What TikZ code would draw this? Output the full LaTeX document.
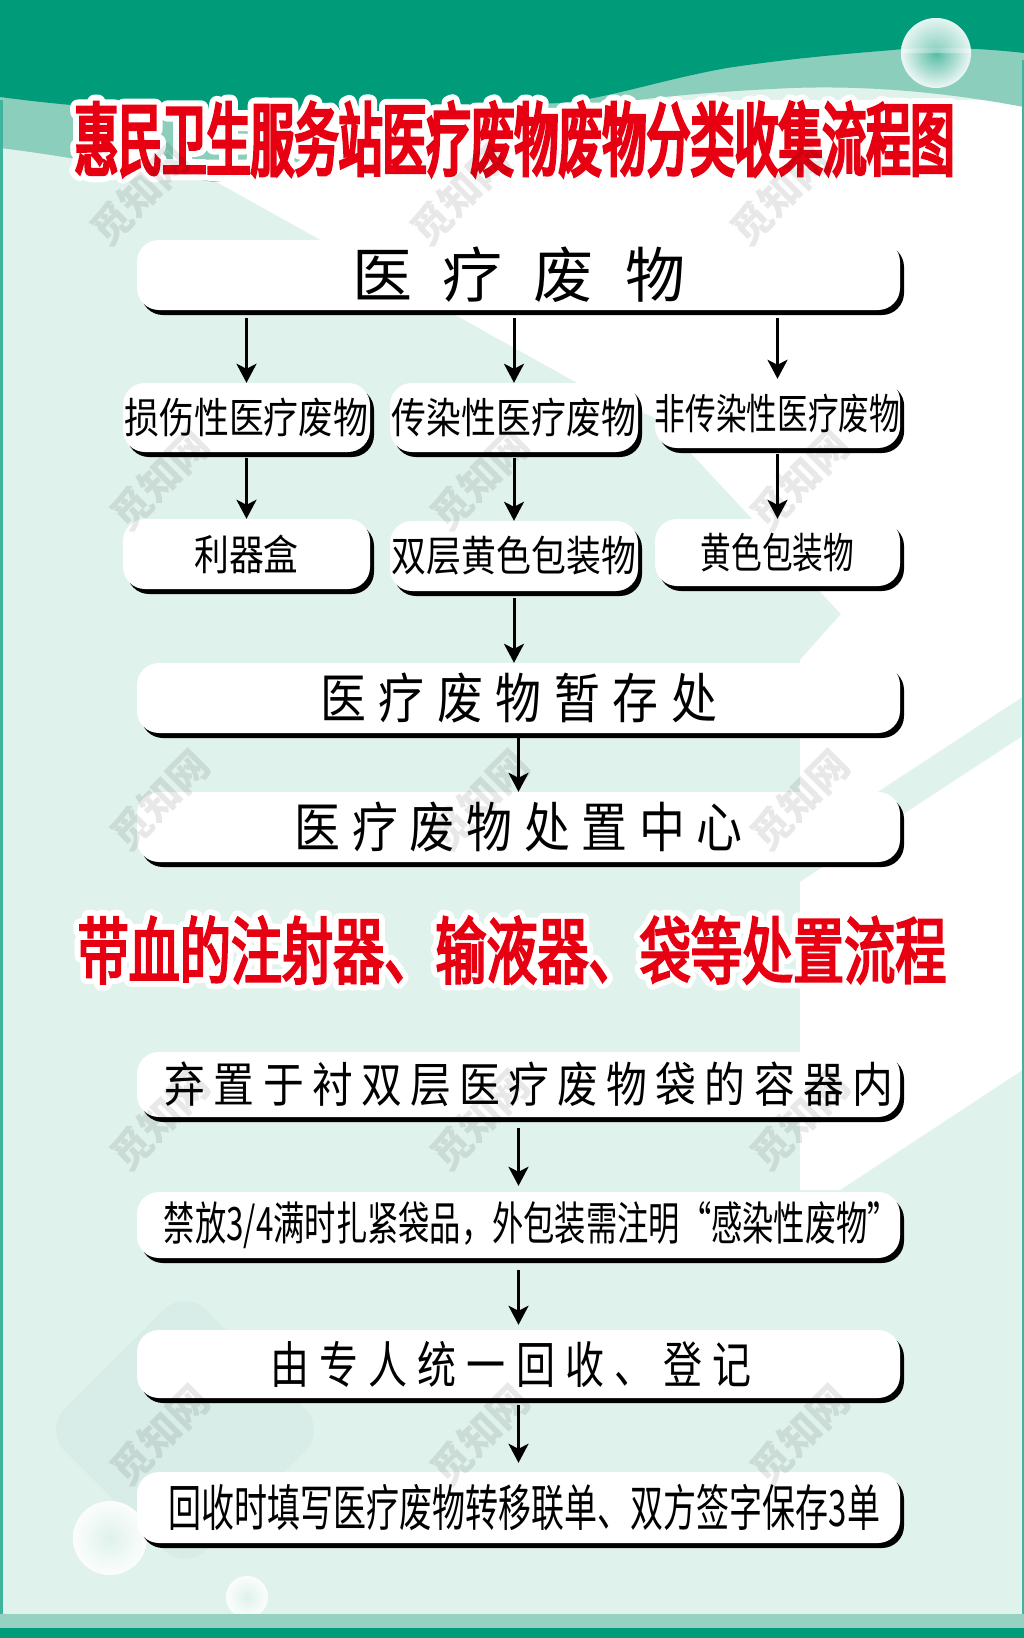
\documentclass[tikz,border=0pt]{standalone}
\usepackage{fontspec}
\setmainfont{Noto Sans CJK SC}
\newfontfamily\fA{Noto Sans CJK SC}
\newfontfamily\fB[FakeStretch=0.83]{Noto Sans CJK SC}
\newfontfamily\fC[FakeStretch=0.73]{Noto Sans CJK SC}
\newfontfamily\fM[FakeStretch=0.85]{Noto Sans CJK SC}
\newfontfamily\fP[FakeStretch=0.78]{Noto Sans CJK SC}
\newfontfamily\fD[FakeStretch=0.68]{Noto Sans CJK SC}
\newfontfamily\fE[FakeStretch=0.66]{Noto Sans CJK SC}
\newfontfamily\fT[FakeStretch=0.55, FakeBold=4]{Noto Sans CJK SC}
\newfontfamily\fTo[FakeStretch=0.55, FakeBold=19]{Noto Sans CJK SC}
\newfontfamily\fS[FakeStretch=0.70, FakeBold=3]{Noto Sans CJK SC}
\newfontfamily\fSo[FakeStretch=0.70, FakeBold=19]{Noto Sans CJK SC}
\usetikzlibrary{arrows.meta,shadows,calc}
\definecolor{dgreen}{HTML}{009B78}
\definecolor{mteal}{HTML}{8CCEBC}
\definecolor{pale}{HTML}{E0F2EC}
\definecolor{faint}{HTML}{D3EAE5}
\definecolor{edge}{HTML}{3DB49B}
\definecolor{tred}{HTML}{E60012}
\definecolor{bband}{HTML}{96D1C1}
\begin{document}
\begin{tikzpicture}[x=1pt,y=-1pt,
  box/.style={fill=white, rounded corners=22pt, inner sep=0pt,
    drop shadow={shadow xshift=4pt, shadow yshift=-5pt, fill=black, opacity=1}},
  arr/.style={line width=3pt, -{Stealth[length=19pt, width=20pt, inset=5pt]}},
  outl/.style={text=white, inner sep=0pt},
  redt/.style={text=tred, inner sep=0pt},
  wmark/.style={text=black, opacity=0.09, rotate=45, inner sep=0pt,
    font=\fA\bfseries\fontsize{40}{40}\selectfont}]
\useasboundingbox (0,0) rectangle (1024,1638);
% ---------- background ----------
\fill[pale] (0,0) rectangle (1024,1638);
\fill[white] (213,180) -- (590,390) -- (660,420) -- (841,614) -- (800,660)
  -- (800,1190) -- (840,1190) -- (1024,1069) -- (1024,100) -- (200,100) -- cycle;
\fill[pale] (800,843) -- (1024,696) -- (1024,735) -- (795,885) -- cycle;
\fill[faint, opacity=0.5, rounded corners=30pt, rotate around={45:(185,1430)}]
  (85,1330) rectangle (285,1530);
% header
\fill[mteal] (0,0) -- (1024,0) -- (1024,107)
  .. controls (960,95) and (880,85) .. (793,88)
  .. controls (700,92) and (620,100) .. (560,112) -- (300,172) -- (213,182)
  .. controls (150,172) and (60,155) .. (0,148) -- cycle;
\fill[dgreen] (0,0) -- (1024,0) -- (1024,53)
  .. controls (980,48) and (930,46) .. (893,50)
  .. controls (830,55) and (780,60) .. (727,68)
  .. controls (660,80) and (610,98) .. (560,103) -- (300,115)
  .. controls (150,114) and (60,105) .. (0,97) -- cycle;
% bubbles
\shade[inner color=dgreen!70!white, outer color=white, opacity=0.85] (936,53) circle (35);
\fill[white, opacity=0.35] (901,53) arc[start angle=180, end angle=360, radius=35] -- cycle;
\shade[inner color=pale, outer color=white, opacity=0.9] (110,1538) circle (37);
\shade[inner color=pale, outer color=white, opacity=0.9] (247,1597) circle (21);
% side edges and bottom bands
\fill[edge] (0,100) rectangle (2.5,1614);
\fill[edge] (1021.5,60) rectangle (1024,1614);
\fill[bband] (0,1614) rectangle (1024,1628);
\fill[dgreen] (0,1628) rectangle (1024,1638);
% ---------- title ----------
\node[outl] (title-o) at (514.5,139) {\special{pdf:literal direct 1 j}\fTo\fontsize{80}{80}\selectfont 惠民卫生服务站医疗废物废物分类收集流程图};
\node[redt] (title) at (514.5,139) {\fT\fontsize{80}{80}\selectfont 惠民卫生服务站医疗废物废物分类收集流程图};
% ---------- flow 1 ----------
\node[box, minimum width=763pt, minimum height=70pt] (top) at (518.5,275)
  {\fA\fontsize{60}{60}\selectfont\def\g{\hspace{31pt}}医\g 疗\g 废\g 物};
\node[box, minimum width=247pt, minimum height=69pt] (r2a) at (246.5,417.5)
  {\fB\fontsize{42}{42}\selectfont 损伤性医疗废物};
\node[box, minimum width=248pt, minimum height=69pt] (r2b) at (514,417.5)
  {\fB\fontsize{42}{42}\selectfont 传染性医疗废物};
\node[box, minimum width=245pt, minimum height=69pt] (r2c) at (777.5,413.5)
  {\fC\fontsize{42}{42}\selectfont 非传染性医疗废物};
\node[box, minimum width=247pt, minimum height=70pt] (r3a) at (246.5,554)
  {\fB\fontsize{42}{42}\selectfont 利器盒};
\node[box, minimum width=248pt, minimum height=70pt] (r3b) at (514,556)
  {\fB\fontsize{42}{42}\selectfont 双层黄色包装物};
\node[box, minimum width=245pt, minimum height=67pt] (r3c) at (777.5,552.5)
  {\fC\fontsize{42}{42}\selectfont 黄色包装物};
\node[box, minimum width=763pt, minimum height=70pt] (store) at (518.5,698)
  {\fM\fontsize{54}{54}\selectfont\def\g{\hspace{12.6pt}}医\g 疗\g 废\g 物\g 暂\g 存\g 处};
\node[box, minimum width=763pt, minimum height=70pt] (centre) at (518.5,827)
  {\fM\fontsize{54}{54}\selectfont\def\g{\hspace{11.5pt}}医\g 疗\g 废\g 物\g 处\g 置\g 中\g 心};
\foreach \b in {r2a,r2b,r2c}
  \draw[arr] ($(top.south -| \b.north)+(0,8)$) -- (\b.north);
\foreach \a/\b in {r2a/r3a,r2b/r3b,r2c/r3c}
  \draw[arr] ($(\a.south)+(0,6)$) -- (\b.north);
\draw[arr] ($(r3b.south)+(0,7)$) -- (r3b.south |- store.north);
\draw[arr] ($(store.south -| centre.north)+(0,5)$) -- (centre.north);
% ---------- subtitle ----------
\node[outl] (sub-o) at (512,950) {\special{pdf:literal direct 1 j}\fSo\fontsize{73}{73}\selectfont 带血的注射器、输液器、袋等处置流程};
\node[redt] (sub) at (512,950) {\fS\fontsize{73}{73}\selectfont 带血的注射器、输液器、袋等处置流程};
% ---------- flow 2 ----------
\node[box, minimum width=763pt, minimum height=65pt] (p1) at (518.5,1084.5)
  {\hspace*{21pt}\fM\fontsize{48}{48}\selectfont\def\g{\hspace{8.3pt}}弃\g 置\g 于\g 衬\g 双\g 层\g 医\g 疗\g 废\g 物\g 袋\g 的\g 容\g 器\g 内};
\node[box, minimum width=763pt, minimum height=66pt] (p2) at (518.5,1225)
  {\hspace*{26pt}\fD\fontsize{46}{46}\selectfont 禁放3/4满时扎紧袋品，外包装需注明“感染性废物”};
\node[box, minimum width=763pt, minimum height=68pt] (p3) at (518.5,1364)
  {\fP\fontsize{50}{50}\selectfont\def\g{\hspace{10.2pt}}由\g 专\g 人\g 统\g 一\g 回\g 收\g 、\g 登\g 记\hspace*{15pt}};
\node[box, minimum width=763pt, minimum height=71pt] (p4) at (518.5,1507.5)
  {\hspace*{12pt}\fE\fontsize{50}{50}\selectfont 回收时填写医疗废物转移联单、双方签字保存3单};
\draw[arr] ($(p1.south)+(0,11)$) -- ($(p2.north)+(0,-6)$);
\draw[arr] ($(p2.south)+(0,12)$) -- ($(p3.north)+(0,-5)$);
\draw[arr] ($(p3.south)+(0,7)$) -- ($(p4.north)+(0,-9)$);
% ---------- faint watermarks (on top, as in the reference) ----------
\foreach \wx/\wy [count=\i] in {140/195,460/195,780/195,160/480,480/480,800/480,
    160/800,480/800,800/800,160/1120,480/1120,800/1120,160/1435,480/1435,800/1435}
  \node[wmark] (wm\i) at (\wx,\wy) {觅知网};
\end{tikzpicture}
\end{document}
